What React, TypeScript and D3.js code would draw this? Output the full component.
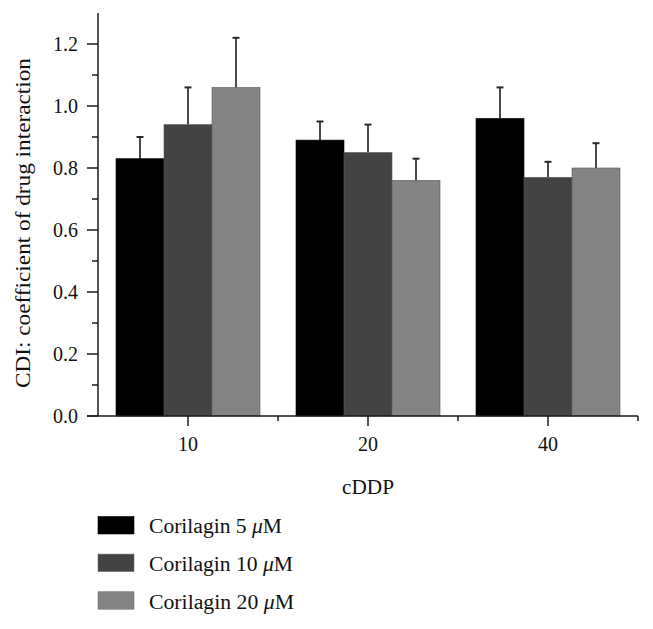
import React from "react";
import * as d3 from "d3";

const categories = ["10", "20", "40"];
const seriesNames = ["Corilagin 5", "Corilagin 10", "Corilagin 20"];
const seriesColors = ["#000000", "#434343", "#838383"];
const values5 = [0.83, 0.89, 0.96];
const values10 = [0.94, 0.85, 0.77];
const values20 = [1.06, 0.76, 0.8];
const err5 = [0.07, 0.06, 0.1];
const err10 = [0.12, 0.09, 0.05];
const err20 = [0.16, 0.07, 0.08];
const yMajorTicks = [0, 0.2, 0.4, 0.6, 0.8, 1.0, 1.2];
const yMinorTicks = [0.1, 0.3, 0.5, 0.7, 0.9, 1.1];
const legendWidths = [133, 144, 145];

const seriesValues = [values5, values10, values20];
const seriesErrs = [err5, err10, err20];

const W = 653;
const H = 629;
const left = 98;
const right = 638;
const top = 13;
const bottom = 416;
const FONT = "'Liberation Serif', 'Times New Roman', serif";

export default function App() {
  const y = d3.scaleLinear().domain([0, 1.3]).range([bottom, top]);
  const x = d3
    .scaleBand<string>()
    .domain(categories)
    .range([left, right])
    .paddingInner(0.2)
    .paddingOuter(0.1);
  const inner = d3
    .scaleBand<string>()
    .domain(seriesNames)
    .range([0, x.bandwidth()])
    .padding(0);
  const step = x.step();
  const axisColor = "#1a1a1a";

  return (
    <svg
      width={W}
      height={H}
      style={{ position: "absolute", left: 0, top: 0, background: "#fff" }}
      fontFamily={FONT}
    >
      {/* bars */}
      {categories.map((c, ci) =>
        seriesNames.map((s, si) => {
          const v = seriesValues[si][ci];
          const e = seriesErrs[si][ci];
          const bx = (x(c) as number) + (inner(s) as number);
          const bw = inner.bandwidth();
          const cx = bx + bw / 2;
          return (
            <g key={c + s}>
              <line
                x1={cx}
                x2={cx}
                y1={y(v)}
                y2={y(v + e)}
                stroke="#2a2a2a"
                strokeWidth={1.7}
              />
              <line
                x1={cx - 3.5}
                x2={cx + 3.5}
                y1={y(v + e)}
                y2={y(v + e)}
                stroke="#2a2a2a"
                strokeWidth={2}
              />
              <rect
                x={bx}
                y={y(v)}
                width={bw}
                height={bottom - y(v)}
                fill={seriesColors[si]}
                stroke={si === 0 ? "#000" : "#5a5a5a"}
                strokeWidth={0.6}
              />
            </g>
          );
        })
      )}

      {/* y axis */}
      <line x1={left} x2={left} y1={top} y2={bottom} stroke={axisColor} strokeWidth={1.5} />
      {yMajorTicks.map((t) => (
        <g key={"ym" + t}>
          <line x1={left - 11} x2={left} y1={y(t)} y2={y(t)} stroke={axisColor} strokeWidth={1.5} />
          <text
            x={left - 20}
            y={y(t)}
            dy="0.35em"
            textAnchor="end"
            fontSize={20}
            fill="#111"
          >
            {d3.format(".1f")(t)}
          </text>
        </g>
      ))}
      {yMinorTicks.map((t) => (
        <line key={"yn" + t} x1={left - 6} x2={left} y1={y(t)} y2={y(t)} stroke={axisColor} strokeWidth={1.5} />
      ))}

      {/* x axis */}
      <line x1={left - 11} x2={right} y1={bottom} y2={bottom} stroke={axisColor} strokeWidth={1.5} />
      {categories.map((c) => {
        const cx = (x(c) as number) + x.bandwidth() / 2;
        return (
          <g key={"xm" + c}>
            <line x1={cx} x2={cx} y1={bottom} y2={bottom + 10} stroke={axisColor} strokeWidth={1.5} />
            <line
              x1={cx + step / 2}
              x2={cx + step / 2}
              y1={bottom}
              y2={bottom + 5}
              stroke={axisColor}
              strokeWidth={1.5}
            />
            <text x={cx} y={bottom + 35} textAnchor="middle" fontSize={20} fill="#111">
              {c}
            </text>
          </g>
        );
      })}

      {/* axis titles */}
      <text
        x={(left + right) / 2}
        y={494}
        textAnchor="middle"
        fontSize={20}
        fill="#111"
        textLength={52}
        lengthAdjust="spacingAndGlyphs"
      >
        cDDP
      </text>
      <text
        transform={`translate(29.5, 223) rotate(-90)`}
        textAnchor="middle"
        fontSize={20}
        fill="#111"
        textLength={330}
        lengthAdjust="spacingAndGlyphs"
      >
        CDI: coefficient of drug interaction
      </text>

      {/* legend */}
      {seriesNames.map((s, i) => {
        const ly = 516.5 + i * 37.6;
        return (
          <g key={"lg" + s}>
            <rect
              x={98}
              y={ly}
              width={36}
              height={17.5}
              fill={seriesColors[i]}
              stroke={i === 0 ? "#000" : "#777"}
              strokeWidth={0.6}
            />
            <text
              x={149}
              y={ly + 16.8}
              fontSize={20}
              fill="#111"
              textLength={legendWidths[i]}
              lengthAdjust="spacingAndGlyphs"
            >
              {s + " "}
              <tspan fontStyle="italic">μ</tspan>M
            </text>
          </g>
        );
      })}
    </svg>
  );
}
